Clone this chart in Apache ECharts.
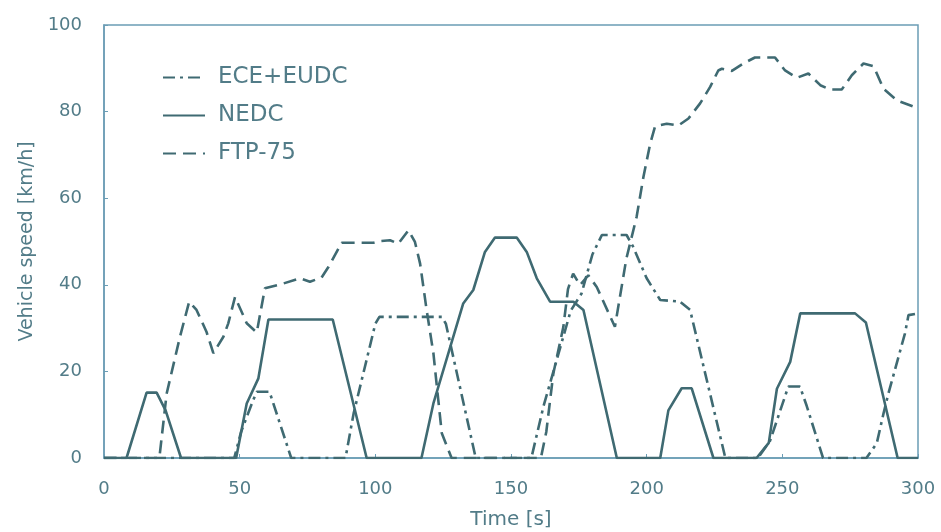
<!DOCTYPE html>
<html>
<head>
<meta charset="utf-8">
<script src="https://cdn.jsdelivr.net/npm/echarts@6/dist/echarts.min.js"></script>
<style>
html,body{margin:0;padding:0;background:#fff;}
#c{width:941px;height:532px;}
</style>
</head>
<body>
<div id="c"></div>
<script>
// ---- data ----
var seriesNames = ['ECE+EUDC', 'NEDC', 'FTP-75'];

var eceTime  = [0, 48, 50.5, 55, 56.3, 61, 69, 89, 92, 100, 101.5, 124.5, 126, 137, 157.5, 162, 172, 176, 180, 183.5, 192.6, 195, 200, 205, 212.3, 216, 229, 241, 245.5, 252.2, 256.5, 259, 265, 281, 284.8, 287.3, 289.1, 295.2, 296.5, 300];
var eceSpeed = [0, 0, 6, 13.4, 15.3, 15.3, 0, 0, 10.3, 31, 32.6, 32.6, 31, 0, 0, 12, 34, 38, 47, 51.5, 51.5, 48.8, 41.5, 36.5, 36.1, 34.2, 0, 0, 4, 16.5, 16.5, 12, 0, 0, 3.4, 10.3, 14.9, 28.8, 33, 33.4];

var nedcTime  = [0, 8.3, 15.7, 19.4, 22.7, 28.4, 48.7, 52.6, 56.9, 60.6, 84.3, 96.8, 117, 121.4, 132.4, 136.1, 140.4, 144.1, 152.1, 155.8, 159.5, 164.4, 173, 176.7, 189, 205, 208, 212.9, 216.6, 224.6, 240.5, 245, 248, 252.9, 256.6, 276.8, 280.8, 292.5, 300];
var nedcSpeed = [0, 0, 15.1, 15.1, 11, 0, 0, 12.6, 18.4, 32, 32, 0, 0, 12.6, 35.7, 38.8, 47.6, 50.9, 50.9, 47.6, 41.5, 36.1, 36.1, 34.2, 0, 0, 11, 16.1, 16.1, 0, 0, 3.5, 16, 22.2, 33.4, 33.4, 31.3, 0, 0];

var ftpTime  = [0, 20.4, 23.1, 28, 31.4, 34.1, 37.8, 40.3, 44, 45.8, 48.3, 52.6, 56.3, 59.3, 66.1, 72.2, 75.9, 80.2, 82.7, 87.6, 99.3, 101.7, 105.4, 108.5, 112.2, 114.6, 116.5, 118.9, 121.4, 123.2, 124.5, 128.1, 161, 163, 165.6, 169.3, 171, 172.9, 175.4, 178.5, 181.6, 188.3, 192.5, 196.3, 198.8, 201.3, 203.1, 207.4, 211.7, 215.4, 219.7, 223.4, 226.4, 227.7, 231.4, 235.6, 239.9, 247.3, 251, 255.3, 259.6, 264, 267.6, 271.9, 275.6, 279.9, 283.6, 287.3, 292.2, 299.5];
var ftpSpeed = [0, 0, 14.9, 28, 36.1, 34.2, 29.1, 24.2, 28, 31.1, 37.2, 31.1, 29, 39.2, 40.3, 41.5, 40.7, 41.7, 44.1, 49.7, 49.7, 50.1, 50.3, 49.5, 52.6, 49.9, 44.9, 34.2, 24.2, 13.4, 5.7, 0, 0, 6, 19.5, 30.3, 39, 42.6, 39.9, 42.2, 39.5, 30.3, 46, 55.7, 64.9, 72.6, 76.6, 77.2, 76.8, 78.4, 81.9, 85.7, 89.5, 89.9, 89.4, 91.1, 92.5, 92.5, 89.5, 87.8, 88.8, 86.1, 85.1, 85.1, 88.4, 91.1, 90.5, 85.3, 82.6, 80.9];

var xTicks = [0, 50, 100, 150, 200, 250, 300];
var yTicks = [0, 20, 40, 60, 80, 100];

function pairs(t, v) { return t.map(function (x, i) { return [x, v[i]]; }); }

var textColor = '#527c88';
var lineColor = '#3f6a72';
var axisColor = '#6b9db5';
var font = 'DejaVu Sans';

var chart = echarts.init(document.getElementById('c'), null, { renderer: 'canvas' });
chart.setOption({
  animation: false,
  backgroundColor: '#ffffff',
  grid: {
    left: 104, right: 23, top: 25, bottom: 74,
    outerBoundsMode: 'none', containLabel: false,
    show: true, borderColor: axisColor, borderWidth: 1.5, backgroundColor: 'transparent'
  },
  legend: {
    orient: 'vertical',
    left: 157, top: 61,
    itemWidth: 42, itemHeight: 14, itemGap: 15,
    itemStyle: { opacity: 0 },
    textStyle: { color: textColor, fontSize: 23, fontFamily: font, padding: [0, 0, 0, 8] },
    data: seriesNames
  },
  xAxis: {
    type: 'value', min: xTicks[0], max: xTicks[xTicks.length - 1], interval: 50,
    name: 'Time [s]', nameLocation: 'middle', nameGap: 52,
    nameTextStyle: { color: textColor, fontSize: 20, fontFamily: font },
    axisLine: { show: true, lineStyle: { color: axisColor, width: 1.5 } },
    axisTick: { show: true, inside: true, length: 4, lineStyle: { color: axisColor } },
    axisLabel: { color: textColor, fontSize: 18, fontFamily: font, margin: 22 },
    splitLine: { show: false }
  },
  yAxis: {
    type: 'value', min: yTicks[0], max: yTicks[yTicks.length - 1], interval: 20,
    name: 'Vehicle speed [km/h]', nameLocation: 'middle', nameGap: 66,
    nameTextStyle: { color: textColor, fontSize: 19, fontFamily: font },
    axisLine: { show: true, lineStyle: { color: axisColor, width: 1.5 } },
    axisTick: { show: true, inside: true, length: 4, lineStyle: { color: axisColor } },
    axisLabel: { color: textColor, fontSize: 18, fontFamily: font, margin: 22 },
    splitLine: { show: false }
  },
  series: [
    {
      name: seriesNames[0], type: 'line', symbol: 'none', data: pairs(eceTime, eceSpeed),
      lineStyle: { color: lineColor, width: 2.6, type: [12, 5, 3, 5] }, itemStyle: { color: lineColor }
    },
    {
      name: seriesNames[1], type: 'line', symbol: 'none', data: pairs(nedcTime, nedcSpeed),
      lineStyle: { color: lineColor, width: 2.6, type: 'solid' }, itemStyle: { color: lineColor }
    },
    {
      name: seriesNames[2], type: 'line', symbol: 'none', data: pairs(ftpTime, ftpSpeed),
      lineStyle: { color: lineColor, width: 2.6, type: [13, 7] }, itemStyle: { color: lineColor }
    }
  ]
});
</script>
</body>
</html>
